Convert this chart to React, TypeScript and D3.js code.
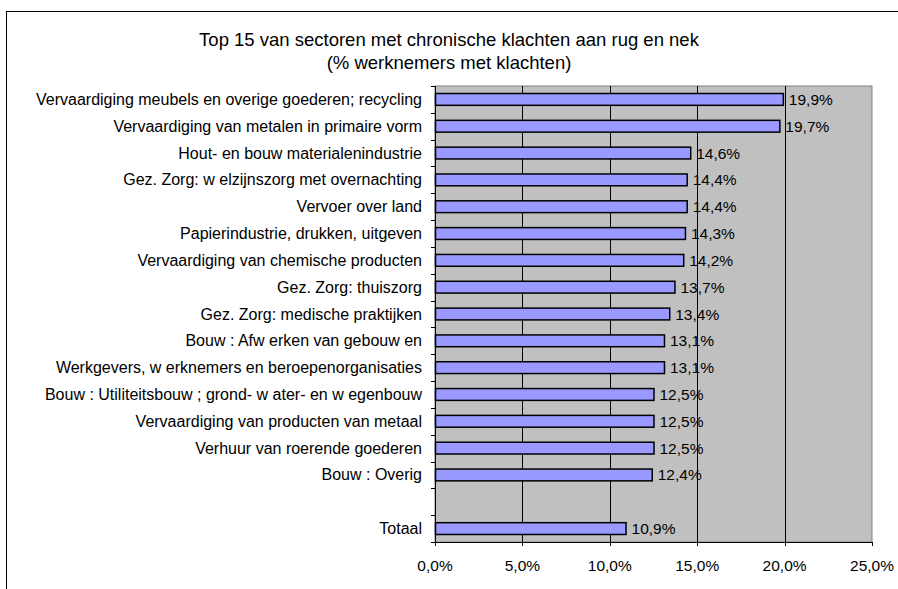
import React from 'react'
import * as d3 from 'd3'

const titleLines = ['Top 15 van sectoren met chronische klachten aan rug en nek', '(% werknemers met klachten)']

const sectors = [
  'Vervaardiging meubels en overige goederen; recycling',
  'Vervaardiging van metalen in primaire vorm',
  'Hout- en bouw materialenindustrie',
  'Gez. Zorg: w elzijnszorg met overnachting',
  'Vervoer over land',
  'Papierindustrie, drukken, uitgeven',
  'Vervaardiging van chemische producten',
  'Gez. Zorg: thuiszorg',
  'Gez. Zorg: medische praktijken',
  'Bouw : Afw erken van gebouw en',
  'Werkgevers, w erknemers en beroepenorganisaties',
  'Bouw : Utiliteitsbouw ; grond- w ater- en w egenbouw',
  'Vervaardiging van producten van metaal',
  'Verhuur van roerende goederen',
  'Bouw : Overig',
  '',
  'Totaal',
]

const values: (number | null)[] = [19.9, 19.7, 14.6, 14.4, 14.4, 14.3, 14.2, 13.7, 13.4, 13.1, 13.1, 12.5, 12.5, 12.5, 12.4, null, 10.9]

const xTicks = [0, 5, 10, 15, 20, 25]

const fmt = (v: number) => v.toFixed(1).replace('.', ',') + '%'

export default function App() {
  const W = 898
  const H = 589
  const plot = { left: 435, right: 872, top: 86, bottom: 542 }

  const x = d3.scaleLinear().domain([0, 25]).range([plot.left, plot.right])
  const y = d3.scaleBand<number>()
    .domain(d3.range(sectors.length))
    .range([plot.top, plot.bottom])
    .paddingInner(0.56)
    .paddingOuter(0.28)
  const step = y.step()

  return (
    <svg width={W} height={H} style={{ position: 'absolute', left: 0, top: 0 }}
      fontFamily="'Liberation Sans', Arial, sans-serif">
      <rect x={0} y={0} width={W} height={H} fill="#fff" />
      <rect x={6.5} y={11.5} width={W + 10} height={H} fill="none" stroke="#000" strokeWidth={1} />

      {titleLines.map((t, i) => (
        <text key={i} x={449} y={46 + i * 23} textAnchor="middle" fontSize={18.5} fill="#000">{t}</text>
      ))}

      <rect x={plot.left} y={plot.top} width={plot.right - plot.left} height={plot.bottom - plot.top}
        fill="#c0c0c0" stroke="#808080" strokeWidth={1} />

      {xTicks.slice(1, -1).map(t => (
        <line key={t} x1={Math.round(x(t)) + 0.5} x2={Math.round(x(t)) + 0.5} y1={plot.top} y2={plot.bottom}
          stroke="#000" strokeWidth={1} />
      ))}

      {/* axes */}
      <line x1={plot.left + 0.5} x2={plot.left + 0.5} y1={plot.top} y2={plot.bottom} stroke="#000" />
      <line x1={plot.left} x2={plot.right} y1={plot.bottom + 0.5} y2={plot.bottom + 0.5} stroke="#000" />
      {d3.range(sectors.length + 1).map(i => {
        const yy = Math.round(plot.top + i * step) + 0.5
        return <line key={i} x1={plot.left - 4} x2={plot.left} y1={yy} y2={yy} stroke="#000" />
      })}
      {xTicks.map(t => (
        <g key={t}>
          <line x1={Math.round(x(t)) + 0.5} x2={Math.round(x(t)) + 0.5} y1={plot.bottom} y2={plot.bottom + 4} stroke="#000" />
          <text x={x(t)} y={571} textAnchor="middle" fontSize={15.5} fill="#000">{fmt(t)}</text>
        </g>
      ))}

      {sectors.map((s, i) => (
        <text key={i} x={422} y={(y(i) as number) + y.bandwidth() / 2 + 5.5} textAnchor="end" fontSize={16} fill="#000">{s}</text>
      ))}

      {values.map((v, i) => v === null ? null : (
        <g key={i}>
          <rect x={plot.left + 0.5} y={(y(i) as number)} width={x(v) - plot.left} height={y.bandwidth()}
            fill="#9999ff" stroke="#000" strokeWidth={1.5} />
          <text x={x(v) + 6} y={(y(i) as number) + y.bandwidth() / 2 + 5.5} fontSize={15.5} fill="#000">{fmt(v)}</text>
        </g>
      ))}
    </svg>
  )
}
